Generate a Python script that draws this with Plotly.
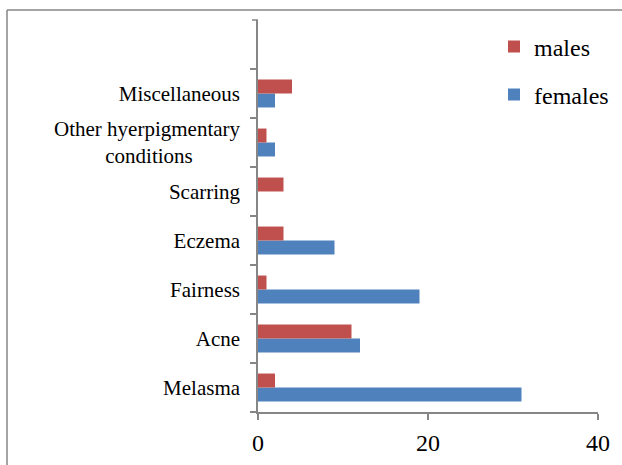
import plotly.graph_objects as go

NB = "\u00a0"
categories = ["Melasma", "Acne", "Fairness", "Eczema", "Scarring",
              "Other hyerpigmentary<br>conditions" + NB * 9, "Miscellaneous"]
females = [31, 12, 19, 9, 0, 2, 2]
males = [2, 11, 1, 3, 3, 1, 4]
x_ticks = [0, 20, 40]

RED = "#C0504D"
BLUE = "#4F81BD"
AXIS = "#868686"
FONT = "Liberation Serif"

fig = go.Figure()
fig.add_trace(go.Bar(y=categories, x=females, orientation="h", name="females",
                     marker=dict(color=BLUE, line=dict(width=0)),
                     legend="legend2", showlegend=True))
fig.add_trace(go.Bar(y=categories, x=males, orientation="h", name="males",
                     marker=dict(color=RED, line=dict(width=0)),
                     legend="legend", showlegend=True))

W, H = 622, 465
L, R, T, B = 258, 598, 20, 412

def px(x):
    return (x - L) / (R - L)

def py(y):
    return (B - y) / (B - T)

fig.update_layout(
    width=W, height=H,
    margin=dict(l=L, r=W - R, t=T, b=H - B, autoexpand=False),
    paper_bgcolor="white", plot_bgcolor="white",
    barmode="group", bargap=0.43, bargroupgap=0,
    showlegend=True,
    font=dict(family=FONT, size=21, color="black"),
    xaxis=dict(range=[0, 40], tickvals=x_ticks, showgrid=False, zeroline=False,
               showline=True, linecolor=AXIS, linewidth=1.5, automargin=False,
               ticks="outside", ticklen=6, tickcolor=AXIS, tickwidth=1.5,
               ticklabelstandoff=2, tickfont=dict(family=FONT, size=24)),
    yaxis=dict(type="category", range=[-0.5, 7.5], showgrid=False, zeroline=False,
               showline=True, linecolor=AXIS, linewidth=1.5, automargin=False,
               ticks="outside", tickson="boundaries", ticklen=6, tickcolor=AXIS,
               tickwidth=1.5, ticklabelstandoff=12, tickfont=dict(family=FONT, size=21)),
    legend=dict(x=px(494), y=py(47), xanchor="left", yanchor="middle",
                font=dict(family=FONT, size=24), bgcolor="rgba(0,0,0,0)", itemwidth=30),
    legend2=dict(x=px(494), y=py(95), xanchor="left", yanchor="middle",
                 font=dict(family=FONT, size=24), bgcolor="rgba(0,0,0,0)", itemwidth=30),
    shapes=[
        dict(type="line", xref="paper", yref="paper", x0=px(7), x1=px(7),
             y0=py(10), y1=py(470), line=dict(color=AXIS, width=1.5)),
        dict(type="line", xref="paper", yref="paper", x0=px(7), x1=px(630),
             y0=py(10), y1=py(10), line=dict(color=AXIS, width=1.5)),
        dict(type="line", xref="paper", yref="paper", x0=px(252), x1=px(258),
             y0=1, y1=1, line=dict(color=AXIS, width=1.5)),
    ],
)

fig.write_html("out.html", config={"displayModeBar": False},
               post_script="document.body.style.margin='0';")
